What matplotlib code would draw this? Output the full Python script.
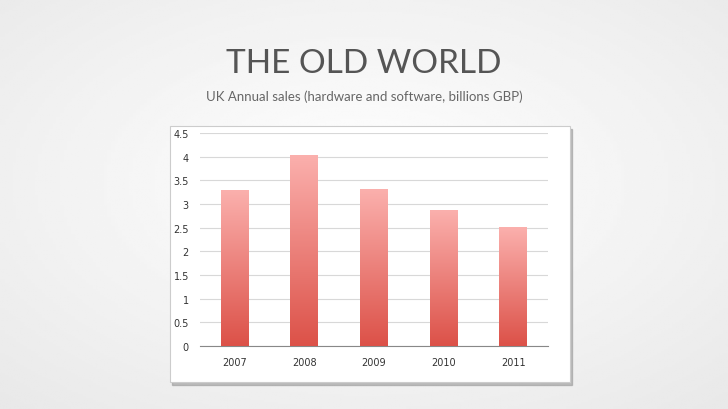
import numpy as np
import matplotlib.pyplot as plt
from matplotlib.colors import LinearSegmentedColormap
from matplotlib.patches import Rectangle

years = ['2007', '2008', '2009', '2010', '2011']
sales = [3.28, 4.03, 3.31, 2.87, 2.51]
yticks = [0, 0.5, 1, 1.5, 2, 2.5, 3, 3.5, 4, 4.5]
ytick_labels = ['0', '0.5', '1', '1.5', '2', '2.5', '3', '3.5', '4', '4.5']

W, H = 728, 410
fig = plt.figure(figsize=(W / 100, H / 100), dpi=100)

# slide background: soft grey gradient
bg = fig.add_axes([0, 0, 1, 1])
yy, xx = np.mgrid[0:1:200j, 0:1:200j]
r = np.sqrt((xx - 0.5) ** 2 + (yy - 0.45) ** 2)
bg.imshow(1 - 0.12 * r, cmap='gray', vmin=0, vmax=1, extent=[0, 1, 0, 1], aspect='auto')
bg.set_xlim(0, 1)
bg.set_ylim(0, 1)
bg.axis('off')

fig.text(364 / W, 1 - 64 / H, 'THE OLD WORLD', ha='center', va='center',
         fontsize=24, color='#555555', family='Lato')
fig.text(364 / W, 1 - 97 / H, 'UK Annual sales (hardware and software, billions GBP)',
         ha='center', va='center', fontsize=9.5, color='#666666', family='Lato')

# white chart box with shadow
bg.add_patch(Rectangle((172 / W, 1 - 386 / H), 400 / W, 256 / H, color='#9a9a9a', alpha=0.6))
bg.add_patch(Rectangle((170 / W, 1 - 383 / H), 400 / W, 256 / H, facecolor='white',
                       edgecolor='#cccccc', lw=0.8))

ax = fig.add_axes([200 / W, 1 - 347 / H, 348 / W, 213 / H])
ax.set_facecolor('none')
x = np.arange(len(years))
bw = 0.4
cmap = LinearSegmentedColormap.from_list('bar', ['#dc5148', '#fbb0ad'])
grad = np.linspace(0, 1, 256).reshape(-1, 1)
for xi, v in zip(x, sales):
    ax.imshow(grad, cmap=cmap, origin='lower', aspect='auto',
              extent=[xi - bw / 2, xi + bw / 2, 0, v], zorder=3)
ax.set_xlim(-0.5, len(years) - 0.5)
ax.set_ylim(0, 4.5)
ax.set_yticks(yticks)
ax.set_yticklabels(ytick_labels)
ax.set_xticks(x)
ax.set_xticklabels(years)
ax.grid(axis='y', color='#d8d8d8', lw=0.8, zorder=0)
ax.set_axisbelow(True)
for s in ['top', 'right', 'left']:
    ax.spines[s].set_visible(False)
ax.spines['bottom'].set_color('#888888')
ax.tick_params(length=0, labelsize=7, colors='#333333', pad=8)

fig.savefig('out.png', dpi=100)
